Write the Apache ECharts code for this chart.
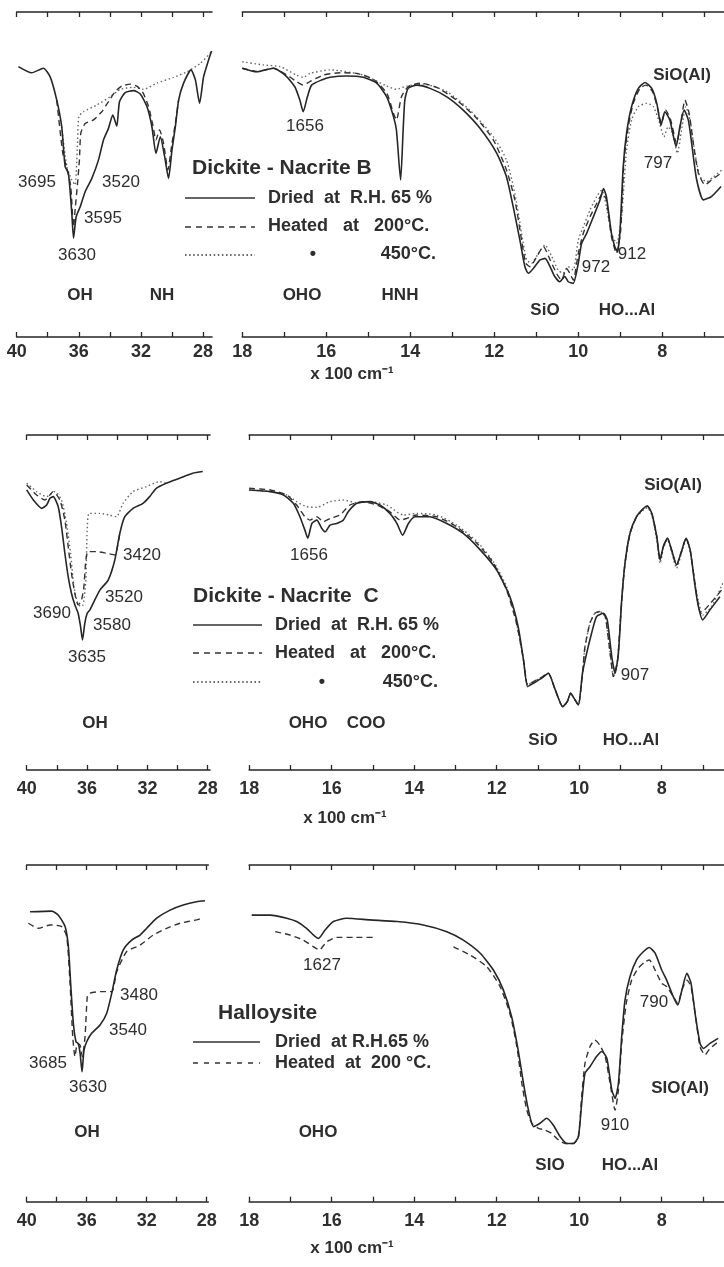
<!DOCTYPE html>
<html>
<head>
<meta charset="utf-8">
<script src="https://cdn.jsdelivr.net/npm/echarts@6/dist/echarts.min.js"></script>
<style>html,body{margin:0;padding:0;background:#fff}#c{width:724px;height:1267px}</style>
</head>
<body>
<div id="c"></div>
<script>
// ---------- tick labels (x 100 cm-1) ----------
const leftTicks = [40, 38, 36, 34, 32, 30, 28];
const leftLabels = [40, 36, 32, 28];
const rightTicks = [18, 17, 16, 15, 14, 13, 12, 11, 10, 9, 8, 7];
const rightLabels = [18, 16, 14, 12, 10, 8];

// ---------- Panel 1 : Dickite-Nacrite B ----------
const p1L_solid = [[39.89,83.2],[39.03,81.3],[38.28,82.7],[37.85,80.1],[37.42,72.9],[37.10,64.7],[36.88,52.4],[36.67,50.4],[36.45,38.1],[36.34,30.4],[36.17,37.0],[35.91,40.1],[35.59,44.7],[35.16,48.8],[34.73,54.5],[34.41,60.6],[34.09,64.2],[33.81,68.3],[33.55,64.9],[33.38,72.4],[33.01,75.2],[32.47,75.8],[32.04,74.8],[31.61,70.9],[31.29,64.7],[31.03,56.5],[30.75,61.6],[30.47,55.5],[30.22,48.8],[30.00,57.5],[29.78,64.7],[29.57,72.9],[29.25,78.1],[28.77,82.2],[28.49,79.1],[28.22,71.9],[27.96,80.1],[27.63,85.4],[27.45,88.0]];
const p1L_dashed = [[37.42,72.9],[37.03,56.5],[36.77,51.9],[36.52,46.3],[36.34,33.9],[36.22,40.1],[36.09,46.8],[35.96,54.5],[35.87,62.7],[35.59,65.7],[35.05,66.8],[34.52,69.3],[34.09,72.4],[33.66,75.5],[33.23,77.2],[32.69,77.8],[32.26,77.2],[31.87,75.2],[31.51,70.9],[31.23,65.2],[31.03,60.6],[30.80,63.7],[30.54,59.6],[30.26,51.4],[30.00,59.6],[29.78,65.7],[29.57,72.9]];
const p1L_dotted = [[37.10,64.7],[36.77,52.4],[36.45,48.3],[36.24,46.8],[36.09,58.6],[36.00,67.8],[35.70,69.3],[34.84,71.4],[33.98,73.9],[33.33,76.2],[32.47,76.8],[31.83,76.2],[30.97,78.1],[29.89,79.9],[29.03,81.6],[28.17,84.2],[27.45,87.8]];

const p1R_solid = [[18.0,82.7],[17.66,81.6],[17.26,82.7],[16.98,80.6],[16.75,77.0],[16.63,72.9],[16.55,69.3],[16.45,73.9],[16.35,77.5],[16.11,79.1],[15.91,79.9],[15.52,80.3],[15.12,79.9],[14.80,78.1],[14.56,73.9],[14.40,67.8],[14.33,63.7],[14.23,48.3],[14.17,63.7],[14.13,72.9],[14.05,76.5],[13.85,77.5],[13.53,76.5],[13.13,73.9],[12.74,69.8],[12.34,64.2],[11.94,56.5],[11.71,49.3],[11.55,40.1],[11.39,29.8],[11.27,21.6],[11.19,19.6],[11.07,21.1],[10.91,23.7],[10.79,24.2],[10.67,21.6],[10.56,18.6],[10.44,17.0],[10.32,18.6],[10.24,17.0],[10.12,16.5],[10.00,22.7],[9.92,28.8],[9.80,31.9],[9.64,37.0],[9.48,42.2],[9.40,45.7],[9.33,43.2],[9.21,31.9],[9.13,27.8],[9.07,26.3],[9.01,31.9],[8.93,52.4],[8.85,62.7],[8.73,70.9],[8.57,76.5],[8.41,78.3],[8.25,76.5],[8.13,71.9],[8.03,65.2],[7.94,69.3],[7.82,66.8],[7.67,58.6],[7.58,64.7],[7.48,69.8],[7.38,66.8],[7.30,59.6],[7.18,48.3],[7.02,42.2],[6.83,43.2],[6.60,46.3]];
const p1R_dashed = [[18.0,82.7],[17.66,81.7],[17.26,82.7],[16.94,80.6],[16.71,78.6],[16.55,77.5],[16.39,78.6],[16.07,80.6],[15.67,81.3],[15.28,81.1],[14.88,79.3],[14.56,75.0],[14.40,68.8],[14.33,66.8],[14.21,73.9],[14.05,77.0],[13.77,78.1],[13.37,76.8],[12.90,72.9],[12.42,67.3],[12.02,60.6],[11.71,51.4],[11.51,42.2],[11.35,29.8],[11.25,22.7],[11.15,21.6],[10.99,24.7],[10.83,27.8],[10.67,23.7],[10.52,19.6],[10.40,17.5],[10.28,21.1],[10.20,19.6],[10.12,17.5],[10.00,25.7],[9.88,31.9],[9.72,37.0],[9.56,41.1],[9.42,44.2],[9.33,42.2],[9.21,30.9],[9.09,25.7],[8.99,32.9],[8.91,54.5],[8.81,64.7],[8.69,71.9],[8.53,76.5],[8.39,77.5],[8.23,75.5],[8.10,69.8],[8.02,65.7],[7.92,69.8],[7.80,66.8],[7.66,59.6],[7.56,65.7],[7.46,72.9],[7.36,68.8],[7.26,59.6],[7.14,50.4],[6.98,46.8],[6.83,48.3],[6.60,50.4]];
const p1R_dotted = [[18.0,84.7],[17.5,83.7],[17.10,83.2],[16.71,80.6],[16.55,79.9],[16.39,81.1],[15.91,82.2],[15.12,80.6],[14.56,77.2],[14.33,76.2],[14.09,77.2],[13.69,77.8],[13.13,75.5],[12.58,69.8],[12.02,61.6],[11.71,54.5],[11.51,44.2],[11.35,31.9],[11.23,23.7],[11.11,22.7],[10.95,25.7],[10.79,28.3],[10.63,24.7],[10.48,20.6],[10.36,19.6],[10.24,21.6],[10.12,20.6],[10.00,29.8],[9.88,33.9],[9.72,39.1],[9.56,43.2],[9.44,45.2],[9.33,40.1],[9.21,31.9],[9.09,28.8],[8.97,37.0],[8.85,57.5],[8.73,66.8],[8.57,70.9],[8.37,71.9],[8.21,70.9],[8.06,65.7],[7.96,61.6],[7.86,64.7],[7.75,62.7],[7.64,56.5],[7.54,63.7],[7.44,70.9],[7.34,66.8],[7.22,56.5],[7.10,49.3],[6.94,47.8],[6.78,49.3],[6.58,51.4]];

// ---------- Panel 2 : Dickite-Nacrite C ----------
const p2L_solid = [[40.0,83.6],[39.56,80.6],[39.01,78.1],[38.68,79.1],[38.46,81.1],[38.24,81.6],[37.91,78.6],[37.69,72.6],[37.47,64.7],[37.25,57.7],[37.03,52.7],[36.81,49.3],[36.59,46.8],[36.43,42.8],[36.30,38.8],[36.15,43.8],[35.99,46.8],[35.81,47.8],[35.59,49.8],[35.15,53.7],[34.60,56.7],[34.16,62.7],[33.83,70.6],[33.50,75.6],[32.95,78.1],[32.29,79.6],[31.85,81.6],[31.41,84.1],[30.75,85.6],[29.87,87.1],[28.99,88.6],[28.33,89.1]];
const p2L_dashed = [[40.0,85.1],[39.34,82.1],[38.79,80.6],[38.24,83.1],[37.80,80.6],[37.47,74.6],[37.25,66.7],[37.03,58.7],[36.81,52.7],[36.59,49.3],[36.37,50.7],[36.21,54.7],[36.08,62.7],[35.93,65.2],[35.37,65.2],[34.71,64.7],[34.16,64.2],[33.83,70.6]];
const p2L_dotted = [[40.0,85.6],[39.34,83.1],[38.68,81.6],[38.13,83.1],[37.69,80.6],[37.36,73.6],[37.09,64.7],[36.87,54.7],[36.65,50.2],[36.43,48.8],[36.26,49.3],[36.08,56.7],[35.99,71.6],[35.86,76.6],[35.15,76.6],[34.49,76.1],[34.05,75.6],[33.61,79.6],[32.95,83.1],[32.07,84.6],[31.19,86.1],[30.75,85.6]];

const p2R_solid = [[18.0,83.6],[17.49,83.1],[17.17,82.1],[16.93,79.6],[16.77,75.6],[16.65,71.6],[16.58,69.2],[16.48,73.6],[16.36,74.6],[16.24,72.1],[16.16,71.1],[16.04,73.1],[15.88,73.6],[15.72,74.6],[15.60,77.1],[15.39,79.6],[15.07,80.1],[14.83,79.1],[14.59,76.6],[14.42,73.6],[14.28,70.1],[14.14,73.6],[13.98,75.6],[13.62,75.6],[13.21,73.6],[12.81,70.6],[12.40,65.7],[12.00,59.7],[11.68,51.7],[11.48,42.8],[11.35,32.8],[11.25,24.9],[11.11,25.9],[10.91,27.4],[10.75,28.9],[10.58,23.9],[10.40,18.9],[10.29,20.4],[10.21,22.9],[10.10,20.9],[10.02,19.4],[9.92,28.9],[9.82,34.8],[9.70,40.8],[9.58,45.8],[9.41,46.8],[9.32,44.8],[9.21,33.8],[9.13,28.9],[9.05,34.8],[8.97,50.7],[8.89,61.7],[8.77,70.6],[8.61,75.6],[8.44,78.1],[8.35,78.8],[8.24,76.6],[8.12,69.7],[8.04,62.7],[7.96,66.7],[7.86,69.2],[7.76,65.7],[7.64,61.2],[7.51,65.7],[7.41,69.2],[7.31,65.7],[7.19,54.7],[7.11,48.8],[7.01,44.8],[6.83,47.8],[6.59,51.7]];
const p2R_dashed = [[18.0,84.1],[17.49,83.6],[17.09,82.1],[16.85,79.1],[16.65,75.6],[16.53,74.6],[16.36,75.6],[16.20,74.1],[16.04,75.1],[15.80,76.1],[15.56,79.1],[15.23,80.1],[14.91,79.1],[14.59,77.1],[14.34,74.6],[14.18,75.1],[13.94,76.1],[13.45,75.6],[12.97,72.6],[12.48,67.7],[12.08,61.7],[11.76,53.7],[11.52,43.8],[11.35,32.8],[11.25,25.4],[11.11,26.4],[10.95,27.4],[10.75,28.9],[10.58,23.9],[10.40,18.9],[10.29,20.4],[10.21,22.9],[10.10,20.9],[10.02,19.4],[9.92,28.9],[9.86,36.8],[9.74,43.8],[9.62,46.8],[9.50,47.3],[9.37,45.8],[9.25,34.8],[9.17,27.9],[9.07,32.8],[8.97,50.7],[8.89,61.7],[8.77,70.6],[8.61,75.6],[8.44,78.1],[8.35,78.8],[8.24,76.6],[8.12,69.7],[8.04,62.7],[7.96,66.7],[7.86,69.2],[7.76,65.7],[7.64,61.2],[7.51,65.7],[7.41,69.2],[7.31,65.7],[7.17,53.7],[7.05,46.8],[6.85,49.3],[6.55,53.7]];
const p2R_dotted = [[18.0,83.6],[17.49,83.1],[17.09,82.1],[16.85,80.1],[16.61,78.6],[16.36,78.4],[16.04,80.1],[15.72,80.6],[15.39,79.8],[15.07,80.1],[14.67,79.1],[14.26,76.1],[13.94,76.6],[13.45,76.1],[12.97,73.1],[12.48,68.2],[12.08,62.2],[11.76,54.7],[11.52,43.8],[11.35,32.8],[11.25,25.4],[11.11,26.4],[10.95,27.4],[10.75,28.9],[10.58,23.9],[10.40,18.9],[10.29,20.4],[10.21,22.9],[10.10,20.9],[10.02,19.4],[9.92,28.9],[9.86,36.8],[9.74,43.8],[9.62,46.8],[9.50,47.3],[9.37,45.8],[9.25,34.8],[9.17,27.9],[9.07,32.8],[8.97,50.7],[8.89,61.7],[8.77,70.6],[8.61,75.6],[8.44,77.6],[8.35,78.3],[8.24,76.1],[8.12,68.7],[8.04,61.7],[7.96,66.2],[7.86,68.7],[7.76,65.2],[7.64,60.2],[7.51,65.2],[7.41,68.7],[7.31,65.2],[7.15,52.7],[7.00,46.3],[6.79,48.8],[6.52,55.7]];

// ---------- Panel 3 : Halloysite ----------
const p3L_solid = [[39.78,86.1],[38.33,86.3],[37.89,85.1],[37.44,81.7],[37.22,75.7],[37.07,64.9],[36.89,53.0],[36.71,47.5],[36.56,47.0],[36.44,44.1],[36.31,38.6],[36.18,45.0],[36.00,47.5],[35.67,50.0],[35.11,52.5],[34.67,55.9],[34.33,61.9],[34.00,68.8],[33.56,74.8],[33.00,77.7],[32.44,79.2],[32.00,81.2],[31.33,84.2],[30.44,86.6],[29.56,88.1],[28.67,89.1],[28.11,89.4]];
const p3L_dashed = [[39.89,82.7],[39.22,81.2],[38.44,82.2],[37.67,81.7],[37.33,78.7],[37.11,64.9],[36.93,49.0],[36.78,43.1],[36.62,47.0],[36.44,46.5],[36.29,43.1],[36.11,49.0],[35.96,60.9],[35.82,61.9],[35.11,62.4],[34.33,62.4],[34.00,68.3],[33.33,74.3],[32.44,76.2],[31.56,79.2],[30.67,81.2],[29.78,82.7],[28.67,83.7],[28.44,84.0]];

const p3R_solid = [[17.94,85.1],[17.49,85.1],[17.09,84.2],[16.85,83.2],[16.61,81.2],[16.44,79.2],[16.32,78.2],[16.16,80.7],[15.96,83.2],[15.64,84.2],[15.07,83.7],[14.42,83.2],[13.78,82.2],[13.21,80.2],[12.81,77.7],[12.40,73.8],[12.08,68.8],[11.84,62.9],[11.64,55.0],[11.48,45.0],[11.35,35.1],[11.23,27.2],[11.11,22.3],[10.95,23.3],[10.79,24.8],[10.63,22.8],[10.46,19.3],[10.30,17.3],[10.14,17.3],[10.02,19.3],[9.94,29.2],[9.86,38.1],[9.74,40.1],[9.58,43.1],[9.45,44.6],[9.33,42.6],[9.21,33.2],[9.13,30.7],[9.05,35.1],[8.97,49.0],[8.89,59.9],[8.77,66.8],[8.61,71.8],[8.44,74.3],[8.30,75.5],[8.16,73.8],[8.00,68.8],[7.88,65.8],[7.72,60.9],[7.61,58.4],[7.51,62.9],[7.39,67.8],[7.29,64.9],[7.18,55.0],[7.07,47.0],[6.99,45.5],[6.83,47.0],[6.63,48.5]];
const p3R_dashed = [[17.37,80.2],[17.01,79.2],[16.69,77.7],[16.44,75.7],[16.30,74.8],[16.12,77.2],[15.88,78.5],[15.48,78.5],[14.91,78.5],[14.0,'-'],[13.05,75.7],[12.65,73.3],[12.24,69.8],[11.92,63.9],[11.68,55.9],[11.51,46.0],[11.39,35.1],[11.27,27.2],[11.15,23.3],[10.99,21.8],[10.83,21.3],[10.67,20.3],[10.50,18.3],[10.34,17.3],[10.14,17.3],[10.02,19.3],[9.94,31.2],[9.86,41.1],[9.74,46.0],[9.62,48.0],[9.50,46.5],[9.37,43.1],[9.25,35.1],[9.13,27.2],[9.05,33.2],[8.97,47.0],[8.86,58.9],[8.73,65.8],[8.57,69.3],[8.40,71.3],[8.30,71.8],[8.16,68.8],[8.00,64.9],[7.88,63.9],[7.72,60.9],[7.61,58.9],[7.51,62.9],[7.39,65.8],[7.29,63.9],[7.18,55.0],[7.07,46.0],[6.95,43.6],[6.83,45.5],[6.63,47.5]];

// ---------- build ----------
const FN = '"Liberation Sans", Arial, sans-serif';
const INK = '#262626';

const grids = [
  {left: 16.7, top: 12, width: 195.3, height: 325},
  {left: 242.3, top: 12, width: 481.7, height: 325},
  {left: 26.7, top: 435, width: 183.3, height: 335},
  {left: 249.2, top: 435, width: 474.8, height: 335},
  {left: 26.7, top: 865, width: 181.6, height: 336.7},
  {left: 249.2, top: 865, width: 474.8, height: 336.7}
];
const ranges = [[27.42, 40], [6.53, 18], [27.85, 40], [6.49, 18], [27.89, 40], [6.49, 18]];
const labelMargin = [6, 6, 10, 10, 10, 10];

const xAxes = [];
const yAxes = [];
grids.forEach((g, i) => {
  const isLeft = i % 2 === 0;
  const ticks = isLeft ? leftTicks : rightTicks;
  const labels = isLeft ? leftLabels : rightLabels;
  ['bottom', 'top'].forEach(pos => {
    xAxes.push({
      type: 'value', gridIndex: i, position: pos, inverse: true,
      min: ranges[i][0], max: ranges[i][1],
      axisLine: {show: true, onZero: false, lineStyle: {color: INK, width: 1.6}},
      axisTick: {show: true, inside: true, length: 5, customValues: ticks, lineStyle: {color: INK, width: 1.3}},
      axisLabel: pos === 'bottom' ? {
        show: true, customValues: labels, margin: labelMargin[i],
        color: '#2e2e2e', fontFamily: FN, fontWeight: 'bold', fontSize: 18
      } : {show: false},
      splitLine: {show: false}
    });
  });
  yAxes.push({type: 'value', gridIndex: i, min: 0, max: 100, show: false});
});

const solidStyle = {color: INK, width: 1.6, type: 'solid'};
const dashStyle = {color: '#333', width: 1.4, type: [6, 4]};
const dotStyle = {color: '#666', width: 1.4, type: [1.5, 2.6]};
function ser(i, data, style) {
  return {
    type: 'line', xAxisIndex: i * 2, yAxisIndex: i, data: data,
    showSymbol: false, smooth: 0.2, connectNulls: false,
    lineStyle: style, silent: true, z: 3
  };
}
const series = [
  ser(0, p1L_dotted, dotStyle), ser(0, p1L_dashed, dashStyle), ser(0, p1L_solid, solidStyle),
  ser(1, p1R_dotted, dotStyle), ser(1, p1R_dashed, dashStyle), ser(1, p1R_solid, solidStyle),
  ser(2, p2L_dotted, dotStyle), ser(2, p2L_dashed, dashStyle), ser(2, p2L_solid, solidStyle),
  ser(3, p2R_dotted, dotStyle), ser(3, p2R_dashed, dashStyle), ser(3, p2R_solid, solidStyle),
  ser(4, p3L_dashed, dashStyle), ser(4, p3L_solid, solidStyle),
  ser(5, p3R_dashed, dashStyle), ser(5, p3R_solid, solidStyle)
];

function txt(x, y, text, font, align) {
  return {type: 'text', x: x, y: y, silent: true, z: 10,
    style: {text: text, font: font, fill: '#2e2e2e', textAlign: align || 'center', align: align || 'center',
            textVerticalAlign: 'middle', verticalAlign: 'middle'}};
}
function seg(x1, x2, y, dash, w) {
  return {type: 'line', silent: true, z: 10, shape: {x1: x1, y1: y, x2: x2, y2: y},
    style: {stroke: '#333', lineWidth: w || 1.4, lineDash: dash || null}};
}
const fNum = `17px ${FN}`;
const fBand = `bold 17px ${FN}`;
const fTitle = `bold 21px ${FN}`;
const fLeg = `bold 18px ${FN}`;

const graphics = [
  // panel 1
  txt(37, 182, '3695', fNum), txt(121, 182, '3520', fNum), txt(103, 218, '3595', fNum), txt(77, 255, '3630', fNum),
  txt(80, 295, 'OH', fBand), txt(162, 295, 'NH', fBand),
  txt(192, 168, 'Dickite - Nacrite B', fTitle, 'left'),
  seg(185, 255, 198), txt(268, 198, 'Dried  at  R.H. 65 %', fLeg, 'left'),
  seg(185, 255, 227, [6, 5]), txt(268, 226, 'Heated   at   200°C.', fLeg, 'left'),
  seg(185, 255, 255, [1.5, 2.6]), txt(313, 254, '•', fLeg), txt(436, 254, '450°C.', fLeg, 'right'),
  txt(305, 126, '1656', fNum), txt(682, 75, 'SiO(Al)', fBand), txt(658, 163, '797', fNum),
  txt(632, 254, '912', fNum), txt(596, 267, '972', fNum),
  txt(302, 295, 'OHO', fBand), txt(400, 295, 'HNH', fBand),
  txt(545, 310, 'SiO', fBand), txt(627, 310, 'HO...Al', fBand),
  txt(352, 374, 'x 100 cm⁻¹', fBand),
  // panel 2
  txt(142, 555, '3420', fNum), txt(124, 597, '3520', fNum), txt(52, 613, '3690', fNum),
  txt(112, 625, '3580', fNum), txt(87, 657, '3635', fNum), txt(95, 723, 'OH', fBand),
  txt(193, 596, 'Dickite - Nacrite  C', fTitle, 'left'),
  seg(193, 262, 625), txt(275, 625, 'Dried  at  R.H. 65 %', fLeg, 'left'),
  seg(193, 262, 653, [6, 5]), txt(275, 653, 'Heated   at   200°C.', fLeg, 'left'),
  seg(193, 262, 682, [1.5, 2.6]), txt(322, 682, '•', fLeg), txt(438, 682, '450°C.', fLeg, 'right'),
  txt(309, 555, '1656', fNum), txt(673, 485, 'SiO(Al)', fBand), txt(635, 675, '907', fNum),
  txt(308, 723, 'OHO', fBand), txt(366, 723, 'COO', fBand),
  txt(543, 740, 'SiO', fBand), txt(631, 740, 'HO...Al', fBand),
  txt(345, 818, 'x 100 cm⁻¹', fBand),
  // panel 3
  txt(139, 995, '3480', fNum), txt(128, 1030, '3540', fNum), txt(48, 1063, '3685', fNum),
  txt(88, 1087, '3630', fNum), txt(87, 1132, 'OH', fBand),
  txt(218, 1013, 'Halloysite', fTitle, 'left'),
  seg(193, 260, 1042), txt(275, 1042, 'Dried  at R.H.65 %', fLeg, 'left'),
  seg(193, 260, 1063, [5, 6]), txt(275, 1063, 'Heated  at  200 °C.', fLeg, 'left'),
  txt(322, 965, '1627', fNum), txt(654, 1002, '790', fNum), txt(680, 1088, 'SIO(Al)', fBand),
  txt(615, 1125, '910', fNum), txt(318, 1132, 'OHO', fBand),
  txt(550, 1165, 'SIO', fBand), txt(630, 1165, 'HO...Al', fBand),
  txt(352, 1248, 'x 100 cm⁻¹', fBand)
];

const chart = echarts.init(document.getElementById('c'), null, {renderer: 'canvas'});
chart.setOption({
  animation: false,
  backgroundColor: '#fff',
  grid: grids,
  xAxis: xAxes,
  yAxis: yAxes,
  series: series,
  graphic: {elements: graphics}
});
</script>
</body>
</html>
